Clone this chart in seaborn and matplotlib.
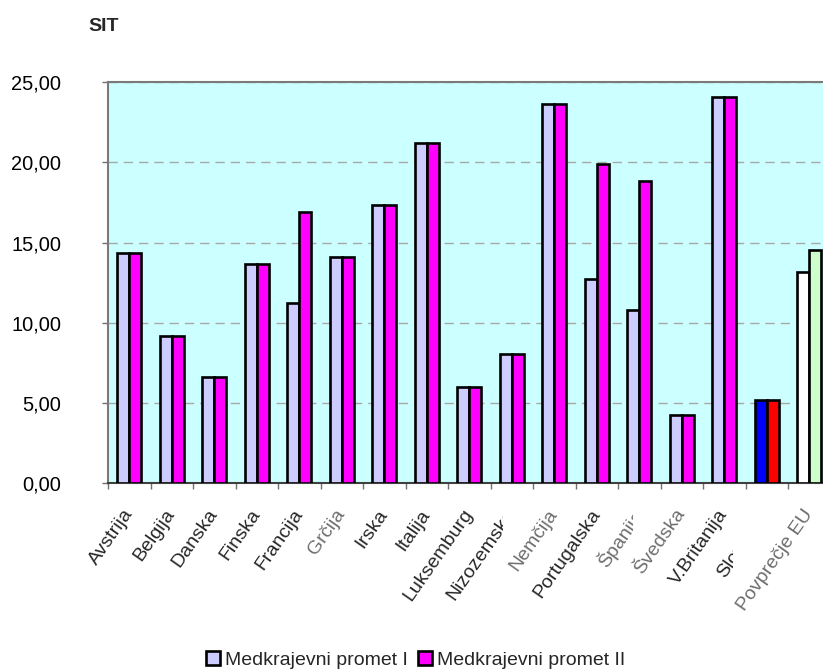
import numpy as np
import pandas as pd
import seaborn as sns
import matplotlib
matplotlib.use("Agg")
import matplotlib.pyplot as plt
from matplotlib.patches import Patch
from matplotlib.ticker import FixedLocator, FuncFormatter
from matplotlib.transforms import Bbox, TransformedBbox, blended_transform_factory

# Cena medkrajevnega prometa po državah (SIT)
drzave = ["Avstrija", "Belgija", "Danska", "Finska", "Francija", "Grčija", "Irska",
          "Italija", "Luksemburg", "Nizozemska", "Nemčija", "Portugalska", "Španija",
          "Švedska", "V.Britanija", "Slovenija", "Povprečje EU"]
promet_I = [14.33, 9.17, 6.65, 13.65, 11.22, 14.08, 17.32, 21.21, 6.00, 8.07,
            23.66, 12.71, 10.77, 4.25, 24.08, 5.20, 13.15]
promet_II = [14.33, 9.17, 6.65, 13.65, 16.88, 14.08, 17.32, 21.21, 6.00, 8.07,
             23.66, 19.87, 18.81, 4.25, 24.08, 5.20, 14.52]
serije = ["Medkrajevni promet I", "Medkrajevni promet II"]
sive_oznake = ["Grčija", "Nemčija", "Španija", "Švedska", "Povprečje EU"]
# oznake, ki jih prekrije sosednja oznaka (meja v enotah osi x)
odrezane = {"Nizozemska": 8.8, "Španija": 11.86, "Slovenija": 14.21}

barve = ["#CCCCFF", "#FF00FF"]
posebne_barve = {"Slovenija": ("#0000FF", "#FF0000"),
                 "Povprečje EU": ("#FFFFFF", "#CCFFCC")}

df = pd.DataFrame({
    "drzava": drzave * 2,
    "vrednost": promet_I + promet_II,
    "serija": [serije[0]] * len(drzave) + [serije[1]] * len(drzave),
})

sns.set_style("white")
plt.rcParams["font.family"] = ["Liberation Sans", "DejaVu Sans"]

fig = plt.figure(figsize=(8.23, 6.71), dpi=100)
W, H = 823, 671
ax = fig.add_axes([108 / W, 1 - 483.3 / H, (830.5 - 108) / W, (483.3 - 82) / H])
ax.set_facecolor("#CCFFFF")

sns.barplot(data=df, x="drzava", y="vrednost", hue="serija", order=drzave,
            hue_order=serije, palette=barve, width=0.56, saturation=1,
            edgecolor="black", linewidth=1.9, legend=False, ax=ax, zorder=3)

# posebne barve za Slovenijo in povprečje EU
for k, cont in enumerate(ax.containers):
    for i, patch in enumerate(cont.patches):
        if drzave[i] in posebne_barve:
            patch.set_facecolor(posebne_barve[drzave[i]][k])

ax.set_xlim(-0.5, len(drzave) - 0.5)
ax.set_ylim(0, 25)
ax.set_xlabel("")
ax.set_ylabel("")

# os y
ax.set_yticks(np.arange(0, 26, 5))
ax.yaxis.set_major_formatter(FuncFormatter(lambda v, p: f"{v:.2f}".replace(".", ",")))
ax.tick_params(axis="y", direction="out", length=4.3, width=1.0, color="#707070",
               pad=29.5, labelsize=14.4, labelcolor="black", left=True)
ax.yaxis.grid(True, linestyle=(0, (6.7, 4.3)), color="#A8A8A8", linewidth=1.0, zorder=1)
ax.xaxis.grid(False)
ax.set_axisbelow(True)

# os x: oznake na sredini kategorij, zareze na mejah
ax.xaxis.set_minor_locator(FixedLocator(np.arange(-0.5, len(drzave), 1.0)))
ax.tick_params(axis="x", which="minor", direction="out", length=4.3, width=1.0,
               color="#707070", bottom=True)
ax.tick_params(axis="x", which="major", length=0, pad=20, labelsize=14)
ax.set_xticks(range(len(drzave)))
ax.set_xticklabels(drzave)

clip_tr = blended_transform_factory(ax.transData, fig.transFigure)
for lab in ax.get_xticklabels():
    lab.set_rotation(55)
    lab.set_rotation_mode("anchor")
    lab.set_ha("right")
    lab.set_va("center")
    t = lab.get_text()
    if t in sive_oznake:
        lab.set_color("#6E6E6E")
    if t in odrezane:
        lab.set_clip_box(TransformedBbox(Bbox([[-10, 0], [odrezane[t], 1]]), clip_tr))
        lab.set_clip_on(True)

for s in ["left", "top", "right"]:
    ax.spines[s].set_color("#7A7A7A")
    ax.spines[s].set_linewidth(1.5)
ax.spines["bottom"].set_color("#404040")
ax.spines["bottom"].set_linewidth(1.5)

fig.text(88 / W, 1 - 30.7 / H, "SIT", fontsize=14, fontweight="bold", va="baseline")

handles = [Patch(facecolor=c, edgecolor="black", linewidth=1.9) for c in barve]
fig.legend(handles, serije, loc="center", bbox_to_anchor=(0.505, 1 - 660 / H),
           ncol=2, frameon=False, fontsize=14, handlelength=0.72, handleheight=0.72,
           handletextpad=0.25, columnspacing=0.5, borderaxespad=0)

fig.savefig("out.png", dpi=100)
